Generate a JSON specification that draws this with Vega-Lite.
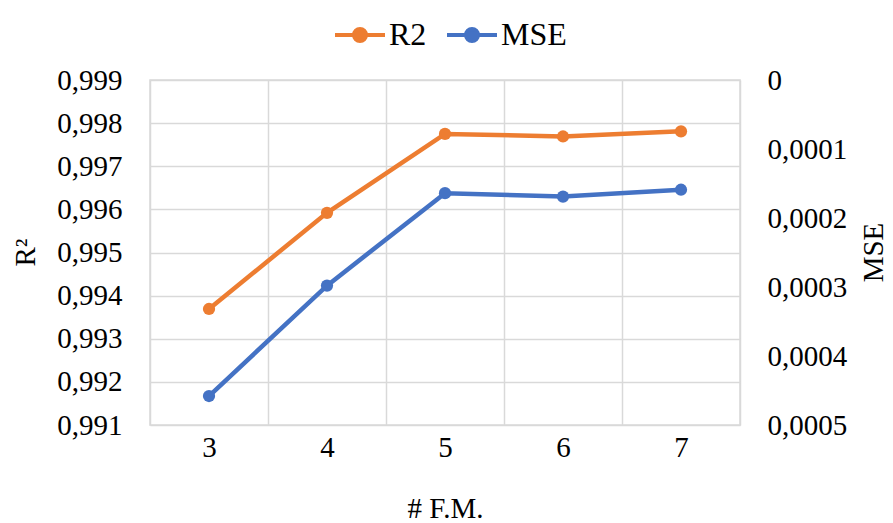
{
  "$schema": "https://vega.github.io/schema/vega-lite/v6.json",
  "width": 590,
  "height": 345,
  "autosize": {"type": "none"},
  "padding": {"left": 150, "top": 80, "right": 153, "bottom": 98},
  "background": "white",
  "config": {
    "font": "Liberation Serif",
    "view": {"stroke": "#D9D9D9", "strokeWidth": 1.5},
    "axis": {"labelFont": "Liberation Serif", "titleFont": "Liberation Serif", "labelColor": "#000", "titleColor": "#000", "labelFontSize": 29, "titleFontSize": 29, "titleFontWeight": "normal", "gridColor": "#D9D9D9", "gridWidth": 1.5, "domain": false, "ticks": false},
    "legend": {"labelFont": "Liberation Serif", "labelFontSize": 32, "labelColor": "#000"}
  },
  "data": {"values": [
    {"fm": "3", "R2": 0.99369, "MSE": 0.000458},
    {"fm": "4", "R2": 0.99592, "MSE": 0.000298},
    {"fm": "5", "R2": 0.99775, "MSE": 0.000164},
    {"fm": "6", "R2": 0.99769, "MSE": 0.000169},
    {"fm": "7", "R2": 0.99781, "MSE": 0.000159}
  ]},
  "encoding": {
    "x": {
      "field": "fm", "type": "ordinal", "bandPosition": 0.5,
      "scale": {"type": "band", "paddingInner": 0, "paddingOuter": 0},
      "axis": {"title": "# F.M.", "labelAngle": 0, "tickBand": "extent", "grid": true, "labelPadding": 8, "titlePadding": 32}
    }
  },
  "layer": [
    {
      "mark": {"type": "line", "strokeWidth": 4.5, "point": {"filled": true, "size": 150}},
      "encoding": {
        "y": {
          "field": "R2", "type": "quantitative",
          "scale": {"domain": [0.991, 0.999], "zero": false, "nice": false},
          "axis": {"title": "R²", "orient": "left", "values": [0.991, 0.992, 0.993, 0.994, 0.995, 0.996, 0.997, 0.998, 0.999], "labelExpr": "replace(format(datum.value, '.3f'), '.', ',')", "grid": true, "labelPadding": 28, "titleX": -125, "titleY": 172, "titleAngle": -90, "titleAlign": "center", "titleBaseline": "middle"}
        },
        "color": {"datum": "R2", "type": "nominal"}
      }
    },
    {
      "mark": {"type": "line", "strokeWidth": 4.5, "point": {"filled": true, "size": 150}},
      "encoding": {
        "y": {
          "field": "MSE", "type": "quantitative",
          "scale": {"domain": [0, 0.0005], "reverse": true, "nice": false},
          "axis": {"title": "MSE", "orient": "right", "values": [0, 0.0001, 0.0002, 0.0003, 0.0004, 0.0005], "labelExpr": "datum.value == 0 ? '0' : replace(format(datum.value, '.4f'), '.', ',')", "grid": false, "labelPadding": 27, "titleX": 133, "titleY": 172, "titleAngle": -90, "titleAlign": "center", "titleBaseline": "middle"}
        },
        "color": {
          "datum": "MSE", "type": "nominal",
          "scale": {"domain": ["R2", "MSE"], "range": ["#ED7D31", "#4472C4"]},
          "legend": {"title": null, "orient": "none", "direction": "horizontal", "legendX": 183, "legendY": -72, "symbolType": "M-1,0L1,0M0.24,0A0.24,0.24 0 1,1 -0.24,0A0.24,0.24 0 1,1 0.24,0Z", "symbolSize": 2500, "symbolStrokeWidth": 4, "labelOffset": 2, "columnPadding": 12}
        }
      }
    }
  ],
  "resolve": {"scale": {"y": "independent"}}
}
